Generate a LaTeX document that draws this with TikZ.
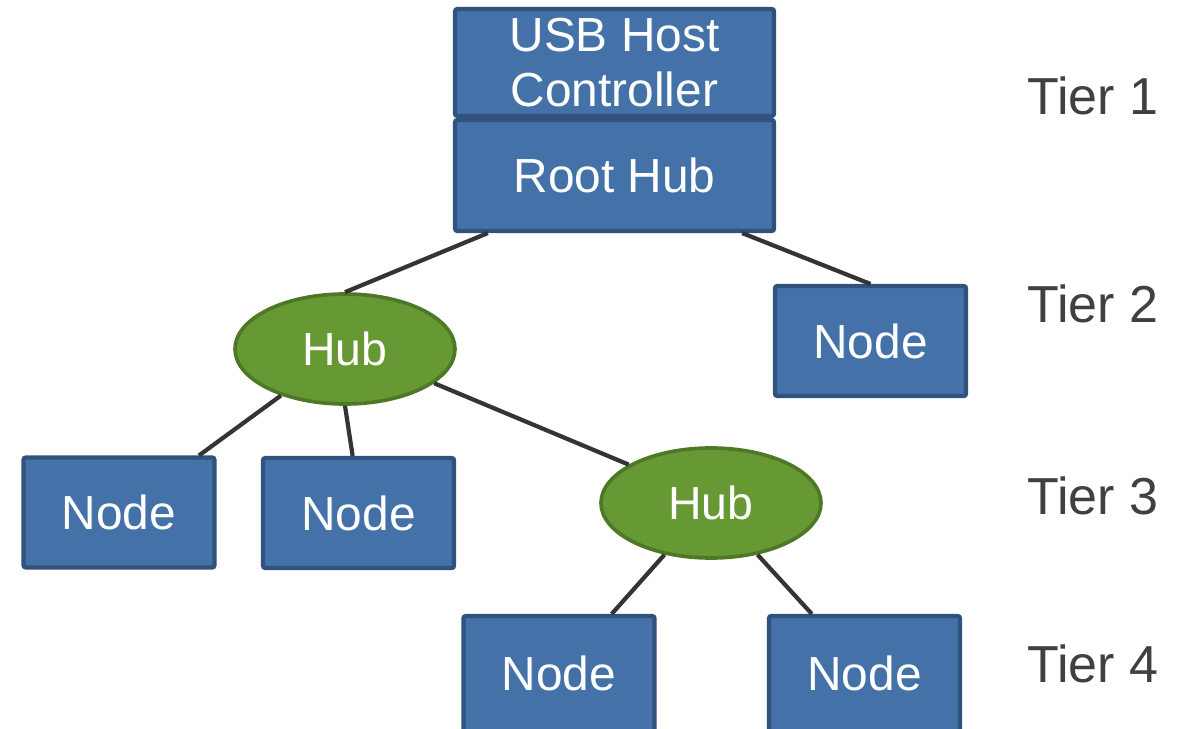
\documentclass[tikz,border=0pt]{standalone}
\usepackage{fontspec}
\setmainfont{Liberation Sans}
\usetikzlibrary{shapes.geometric,calc}
\definecolor{boxfill}{RGB}{68,114,168}
\definecolor{boxline}{RGB}{50,82,126}
\definecolor{hubfill}{RGB}{102,153,52}
\definecolor{hubline}{RGB}{78,120,38}
\definecolor{wire}{RGB}{52,52,52}
\definecolor{tiertext}{RGB}{64,64,64}
\begin{document}
\begin{tikzpicture}[x=0.025cm,y=-0.025cm,
  unitbox/.style={rectangle,rounded corners=1.5pt,fill=boxfill,draw=boxline,
    line width=2.9pt,text=white,align=center,inner sep=0pt,
    font=\fontsize{34}{39}\selectfont},
  nodebox/.style={unitbox,minimum width=191*0.025cm,minimum height=110*0.025cm},
  hubell/.style={ellipse,fill=hubfill,draw=hubline,line width=2.6pt,text=white,
    inner sep=0pt,minimum width=220*0.025cm,minimum height=110*0.025cm,
    font=\fontsize{33}{38}\selectfont},
  tier/.style={anchor=base west,text=tiertext,inner sep=0pt,
    font=\fontsize{37}{44}\selectfont},
  link/.style={draw=wire,line width=3pt}]
\useasboundingbox (0,0) rectangle (1186,729);
\begin{scope}
\clip (0,0) rectangle (1186,729);
% host controller and root hub stacked
\node[unitbox,minimum width=319*0.025cm,minimum height=107*0.025cm] (usb) at (614.5,62.5) {USB Host\\Controller};
\node[unitbox,minimum width=319*0.025cm,minimum height=111*0.025cm] (root) at (614.5,175.5) {Root Hub};
% tier 2
\node[nodebox] (n2) at (870.5,341) {Node};
\node[hubell] (hubA) at (345,349) {Hub};
% tier 3
\node[nodebox] (n3a) at (119,512.5) {Node};
\node[nodebox] (n3b) at (358.5,513) {Node};
\node[hubell] (hubB) at (711,503) {Hub};
% tier 4, running past the lower edge
\node[nodebox,minimum height=124*0.025cm] (n4a) at (559,678) {\raisebox{7pt}{Node}};
\node[nodebox,minimum height=124*0.025cm] (n4b) at (864.5,678) {\raisebox{7pt}{Node}};
% cabling
\draw[link] ($(root.south west)!0.108!(root.south east)$) -- (hubA.north);
\draw[link] ($(root.south west)!0.895!(root.south east)$) -- (n2.north);
\draw[link] (hubA.216) -- ($(n3a.north west)!0.91!(n3a.north east)$);
\draw[link] (hubA.south) -- ($(n3b.north west)!0.47!(n3b.north east)$);
\draw[link] (hubA.339) -- (hubB.155);
\draw[link] (hubB.228) -- ($(n4a.north west)!0.77!(n4a.north east)$);
\draw[link] (hubB.312) -- ($(n4b.north west)!0.23!(n4b.north east)$);
\end{scope}
% tier labels
\node[tier] (t1) at (1027,114) {Tier 1};
\node[tier] (t2) at (1027,322) {Tier 2};
\node[tier] (t3) at (1027,514) {Tier 3};
\node[tier] (t4) at (1027,682) {Tier 4};
\end{tikzpicture}
\end{document}
